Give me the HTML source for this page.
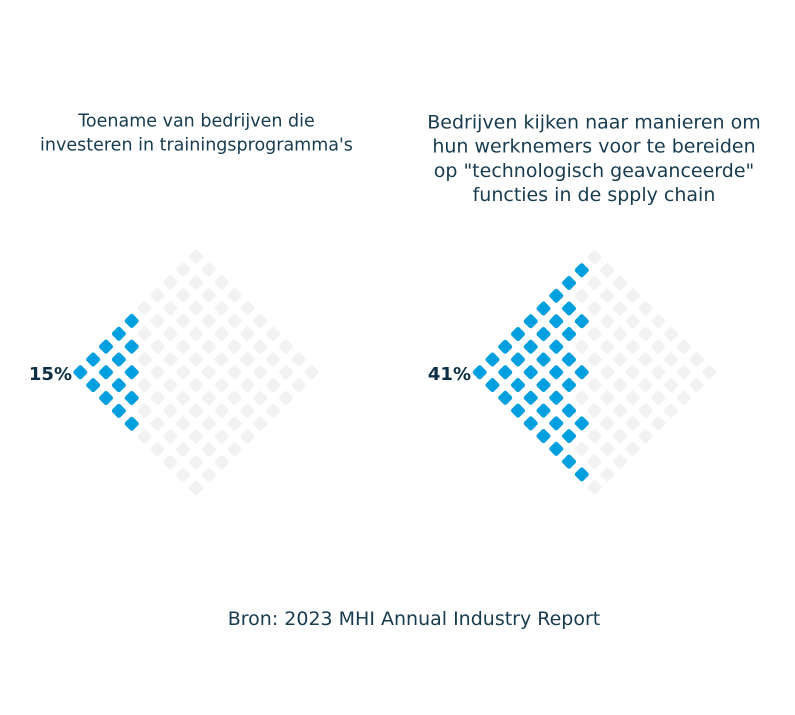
<!DOCTYPE html>
<html>
<head>
<meta charset="utf-8">
<style>
html,body{margin:0;padding:0;background:#ffffff;}
svg{display:block;}
text{font-family:"DejaVu Sans","Liberation Sans",sans-serif;}
</style>
</head>
<body>
<svg width="795" height="715" viewBox="0 0 795 715" xmlns="http://www.w3.org/2000/svg" xmlns:xlink="http://www.w3.org/1999/xlink">
<defs>
  <pattern id="pgL" patternUnits="userSpaceOnUse" x="-90.85" y="-90.85" width="18.17" height="18.17">
    <rect x="3.485" y="3.485" width="11.2" height="11.2" rx="2.2" ry="2.2" fill="#f2f2f2"/>
  </pattern>
  <pattern id="pgR" patternUnits="userSpaceOnUse" x="-90.25" y="-90.25" width="18.05" height="18.05">
    <rect x="3.425" y="3.425" width="11.2" height="11.2" rx="2.2" ry="2.2" fill="#f2f2f2"/>
  </pattern>
  <rect id="d" x="-5.6" y="-5.6" width="11.2" height="11.2" rx="2.2" ry="2.2" transform="rotate(45)"/>
</defs>

<!-- Titles -->
<g fill="#173b4f" text-anchor="middle">
  <text x="196.5" y="126.7" font-size="17.5">Toename van bedrijven die</text>
  <text x="196.5" y="150.7" font-size="17.5">investeren in trainingsprogramma's</text>

  <text x="594" y="128.3" font-size="19">Bedrijven kijken naar manieren om</text>
  <text x="594" y="152.6" font-size="19">hun werknemers voor te bereiden</text>
  <text x="594" y="176.9" font-size="19">op "technologisch geavanceerde"</text>
  <text x="594" y="201.2" font-size="19">functies in de spply chain</text>

  <text x="414" y="625" font-size="19">Bron: 2023 MHI Annual Industry Report</text>
</g>

<!-- Left waffle grey grid -->
<g transform="translate(196,372.3) rotate(45)">
  <rect x="-90.85" y="-90.85" width="181.7" height="181.7" fill="url(#pgL)"/>
</g>
<!-- Left blue (15) -->
<g fill="#009fdf">
  <use href="#d" xlink:href="#d" x="80.3" y="372.3"/>
  <use href="#d" xlink:href="#d" x="93.15" y="359.45"/>
  <use href="#d" xlink:href="#d" x="93.15" y="385.15"/>
  <use href="#d" xlink:href="#d" x="106" y="346.6"/>
  <use href="#d" xlink:href="#d" x="106" y="372.3"/>
  <use href="#d" xlink:href="#d" x="106" y="398"/>
  <use href="#d" xlink:href="#d" x="118.85" y="333.75"/>
  <use href="#d" xlink:href="#d" x="118.85" y="359.45"/>
  <use href="#d" xlink:href="#d" x="118.85" y="385.15"/>
  <use href="#d" xlink:href="#d" x="118.85" y="410.85"/>
  <use href="#d" xlink:href="#d" x="131.7" y="320.9"/>
  <use href="#d" xlink:href="#d" x="131.7" y="346.6"/>
  <use href="#d" xlink:href="#d" x="131.7" y="372.3"/>
  <use href="#d" xlink:href="#d" x="131.7" y="398"/>
  <use href="#d" xlink:href="#d" x="131.7" y="423.7"/>
</g>

<!-- Right waffle grey grid -->
<g transform="translate(594.5,372.3) rotate(45)">
  <rect x="-90.25" y="-90.25" width="180.5" height="180.5" fill="url(#pgR)"/>
</g>
<!-- Right blue (41) -->
<g fill="#009fdf">
  <!-- k=0 -->
  <use href="#d" xlink:href="#d" x="479.7" y="372.3"/>
  <!-- k=1 -->
  <use href="#d" xlink:href="#d" x="492.46" y="359.54"/>
  <use href="#d" xlink:href="#d" x="492.46" y="385.06"/>
  <!-- k=2 -->
  <use href="#d" xlink:href="#d" x="505.22" y="346.78"/>
  <use href="#d" xlink:href="#d" x="505.22" y="372.3"/>
  <use href="#d" xlink:href="#d" x="505.22" y="397.82"/>
  <!-- k=3 -->
  <use href="#d" xlink:href="#d" x="517.98" y="334.02"/>
  <use href="#d" xlink:href="#d" x="517.98" y="359.54"/>
  <use href="#d" xlink:href="#d" x="517.98" y="385.06"/>
  <use href="#d" xlink:href="#d" x="517.98" y="410.58"/>
  <!-- k=4 -->
  <use href="#d" xlink:href="#d" x="530.74" y="321.26"/>
  <use href="#d" xlink:href="#d" x="530.74" y="346.78"/>
  <use href="#d" xlink:href="#d" x="530.74" y="372.3"/>
  <use href="#d" xlink:href="#d" x="530.74" y="397.82"/>
  <use href="#d" xlink:href="#d" x="530.74" y="423.34"/>
  <!-- k=5 -->
  <use href="#d" xlink:href="#d" x="543.5" y="308.5"/>
  <use href="#d" xlink:href="#d" x="543.5" y="334.02"/>
  <use href="#d" xlink:href="#d" x="543.5" y="359.54"/>
  <use href="#d" xlink:href="#d" x="543.5" y="385.06"/>
  <use href="#d" xlink:href="#d" x="543.5" y="410.58"/>
  <use href="#d" xlink:href="#d" x="543.5" y="436.1"/>
  <!-- k=6 -->
  <use href="#d" xlink:href="#d" x="556.26" y="295.74"/>
  <use href="#d" xlink:href="#d" x="556.26" y="321.26"/>
  <use href="#d" xlink:href="#d" x="556.26" y="346.78"/>
  <use href="#d" xlink:href="#d" x="556.26" y="372.3"/>
  <use href="#d" xlink:href="#d" x="556.26" y="397.82"/>
  <use href="#d" xlink:href="#d" x="556.26" y="423.34"/>
  <use href="#d" xlink:href="#d" x="556.26" y="448.86"/>
  <!-- k=7 -->
  <use href="#d" xlink:href="#d" x="569.02" y="282.98"/>
  <use href="#d" xlink:href="#d" x="569.02" y="308.5"/>
  <use href="#d" xlink:href="#d" x="569.02" y="334.02"/>
  <use href="#d" xlink:href="#d" x="569.02" y="359.54"/>
  <use href="#d" xlink:href="#d" x="569.02" y="385.06"/>
  <use href="#d" xlink:href="#d" x="569.02" y="410.58"/>
  <use href="#d" xlink:href="#d" x="569.02" y="436.1"/>
  <use href="#d" xlink:href="#d" x="569.02" y="461.62"/>
  <!-- k=8 partial -->
  <use href="#d" xlink:href="#d" x="581.78" y="270.22"/>
  <use href="#d" xlink:href="#d" x="581.78" y="321.26"/>
  <use href="#d" xlink:href="#d" x="581.78" y="372.3"/>
  <use href="#d" xlink:href="#d" x="581.78" y="423.34"/>
  <use href="#d" xlink:href="#d" x="581.78" y="474.38"/>
</g>

<!-- Percent labels -->
<g fill="#0c2f45" font-weight="bold" font-size="18" text-anchor="end">
  <text x="72" y="380">15%</text>
  <text x="471" y="380">41%</text>
</g>
</svg>
</body>
</html>
